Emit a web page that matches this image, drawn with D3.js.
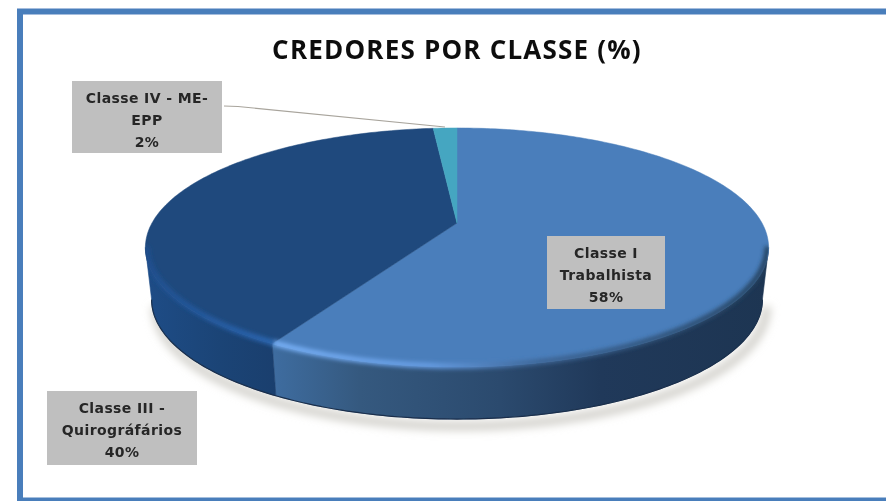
<!DOCTYPE html>
<html>
<head>
<meta charset="utf-8">
<style>
    html, body { margin: 0; padding: 0; background: #fff; overflow: hidden; }
    text { font-weight: 700; }
</style>
</head>
<body>
<div id="chart"></div>
<script src="https://cdn.jsdelivr.net/npm/d3@7"></script>
<script>
    const chartTitle = 'CREDORES POR CLASSE (%)';
    const categories = ['Classe I Trabalhista', 'Classe III - Quirográfários', 'Classe IV - ME-EPP'];
    const labelLines = [['Classe I', 'Trabalhista'], ['Classe III -', 'Quirográfários'], ['Classe IV - ME-', 'EPP']];
    const shares = [58.3, 40.2, 1.5];
    const sliceColors = ['#4a7ebb', '#1f497d', '#45a6c1'];

    const width = 886, height = 501;
    const labelBoxes = [
        { x: 547, y: 236, w: 118, h: 73 },
        { x: 47, y: 391, w: 150, h: 74 },
        { x: 72, y: 81, w: 150, h: 72 }
    ];

    // pie seen in perspective: the centre of the disc sits above the centre of the ellipse
    const cx = 457, apexY = 223, spread = 68.8, tilt = -0.205;
    const rx = d3.scaleLinear().domain([-1, 1]).range([-305, 305]);

    function project(angle, shrink, drop) {
        let u = Math.sin(angle), v = -Math.cos(angle), d = 1 + tilt * v;
        return [cx + rx(u) * shrink / d, (apexY + spread * v) / d + drop];
    }

    function rim(a0, a1, shrink, drop) {
        let n = Math.max(2, Math.ceil(Math.abs(a1 - a0) * 60));
        return d3.range(n + 1).map(function (i) {
            return project(a0 + (a1 - a0) * i / n, shrink, drop);
        });
    }

    const line = d3.line();
    const arcs = d3.pie().sort(null).value(function (d) { return d; })(shares);
    const wallDrop = 52, wallShrink = 0.98;
    // widest points of the ellipse, the wall is only seen between them
    const frontStart = Math.PI - Math.acos(-tilt), frontEnd = Math.PI + Math.acos(-tilt);

    const svg = d3.select('#chart').append('svg')
        .attr('width', width).attr('height', height)
        .style('display', 'block');
    const defs = svg.append('defs');

    function blur(id, amount) {
        defs.append('filter').attr('id', id)
            .attr('x', '-20%').attr('y', '-20%').attr('width', '140%').attr('height', '140%')
            .append('feGaussianBlur').attr('stdDeviation', amount);
    }
    blur('soft', 0.5);
    blur('bevel', 2);
    blur('shade', 4);

    function gradient(id, stops) {
        let g = defs.append('linearGradient').attr('id', id)
            .attr('gradientUnits', 'userSpaceOnUse')
            .attr('x1', stops[0][0]).attr('x2', stops[stops.length - 1][0])
            .attr('y1', 0).attr('y2', 0);
        let span = stops[stops.length - 1][0] - stops[0][0];
        stops.forEach(function (s) {
            g.append('stop').attr('offset', (s[0] - stops[0][0]) / span).attr('stop-color', s[1]);
        });
    }
    gradient('wallBlue', [[275, '#3e6c9f'], [360, '#35597f'], [500, '#2b4a6e'], [600, '#20395a'], [770, '#1d3552']]);
    gradient('wallDark', [[148, '#1e4c86'], [220, '#1b4476'], [275, '#1a3f6e']]);
    gradient('bevelBlue', [[275, '#78b0f6'], [430, '#669ce2'], [540, '#3d6595'], [770, '#24425f']]);
    gradient('bevelDark', [[145, '#1f4f8f'], [275, '#2b68b4']]);

    // outline of the whole pie, keeps the bevel blur inside
    let body = rim(frontEnd, Math.PI * 2, 1, 0)
        .concat(rim(0, frontStart, 1, 0))
        .concat(rim(frontStart, frontEnd, wallShrink, wallDrop));
    defs.append('clipPath').attr('id', 'pieBody')
        .append('path').attr('d', line(body) + 'Z');

    // frame
    let frame = svg.append('g').attr('class', 'frame').attr('filter', 'url(#soft)');
    frame.append('rect').attr('x', 20).attr('y', 11.5)
        .attr('width', width + 20).attr('height', 489)
        .attr('fill', 'none').attr('stroke', '#4a7ebb').attr('stroke-width', 6);

    // shadow under the pie
    svg.append('path')
        .attr('d', line(rim(frontStart, frontEnd, wallShrink, wallDrop + 7)))
        .attr('transform', 'translate(4,0)')
        .attr('fill', 'none').attr('stroke', '#d3d1cc').attr('stroke-width', 9)
        .attr('filter', 'url(#shade)');

    // side wall, only the two big slices reach the front
    let walls = svg.append('g').attr('class', 'walls');
    arcs.forEach(function (d, i) {
        let a0 = Math.max(d.startAngle, frontStart), a1 = Math.min(d.endAngle, frontEnd);
        if (a1 <= a0) { return; }
        let pts = rim(a0, a1, 1, 0).concat(rim(a1, a0, wallShrink, wallDrop));
        walls.append('path')
            .attr('d', line(pts) + 'Z')
            .attr('fill', i === 0 ? 'url(#wallBlue)' : 'url(#wallDark)')
            .attr('stroke', i === 0 ? 'url(#wallBlue)' : 'url(#wallDark)')
            .attr('stroke-width', 0.6);
    });

    // dark line where the wall meets the floor
    svg.append('path')
        .attr('d', line(rim(frontStart, frontEnd, wallShrink, wallDrop)))
        .attr('fill', 'none').attr('stroke', '#1a2f4c').attr('stroke-width', 1.2)
        .attr('filter', 'url(#soft)');

    // top face
    let faces = svg.append('g').attr('class', 'faces');
    faces.selectAll('path').data(arcs).enter().append('path')
        .attr('d', function (d) {
            return line([[cx, apexY]].concat(rim(d.startAngle, d.endAngle, 1, 0))) + 'Z';
        })
        .attr('fill', function (d, i) { return sliceColors[i]; })
        .attr('stroke', function (d, i) { return sliceColors[i]; })
        .attr('stroke-width', 0.5);

    // soft bevel along the front of the rim
    let bevels = svg.append('g').attr('class', 'bevels').attr('clip-path', 'url(#pieBody)');
    arcs.forEach(function (d, i) {
        let a0 = Math.max(d.startAngle, frontStart), a1 = Math.min(d.endAngle, frontEnd);
        if (a1 <= a0) { return; }
        bevels.append('path')
            .attr('d', line(rim(a0, a1, 0.996, -1)))
            .attr('fill', 'none')
            .attr('stroke', i === 0 ? 'url(#bevelBlue)' : 'url(#bevelDark)')
            .attr('stroke-width', 5.5)
            .attr('filter', 'url(#bevel)');
    });

    // leader line of the small slice
    svg.append('path')
        .attr('d', line([[224, 106], [238, 106.5], [445, 127]]))
        .attr('fill', 'none').attr('stroke', '#a8a49c').attr('stroke-width', 1.1);

    // labels
    let labels = svg.append('g').attr('class', 'labels').attr('filter', 'url(#soft)');
    categories.forEach(function (name, i) {
        let box = labelBoxes[i];
        let lines = labelLines[i].concat(d3.format('.0f')(shares[i]) + '%');
        labels.append('rect')
            .attr('x', box.x).attr('y', box.y).attr('width', box.w).attr('height', box.h)
            .attr('fill', '#bfbfbf');
        labels.selectAll(null).data(lines).enter().append('text')
            .attr('x', box.x + box.w / 2)
            .attr('y', function (d, j) { return box.y + 22 + j * 22; })
            .attr('text-anchor', 'middle')
            .attr('font-family', '"DejaVu Sans", sans-serif')
            .attr('font-size', 14)
            .attr('letter-spacing', 0.4)
            .attr('fill', '#262626')
            .text(function (d) { return d; });
    });

    svg.append('text')
        .attr('x', cx).attr('y', 59)
        .attr('text-anchor', 'middle')
        .attr('font-family', '"Open Sans", sans-serif')
        .attr('font-size', 26)
        .attr('letter-spacing', 1.2)
        .attr('fill', '#111')
        .attr('filter', 'url(#soft)')
        .text(chartTitle);
</script>
</body>
</html>
